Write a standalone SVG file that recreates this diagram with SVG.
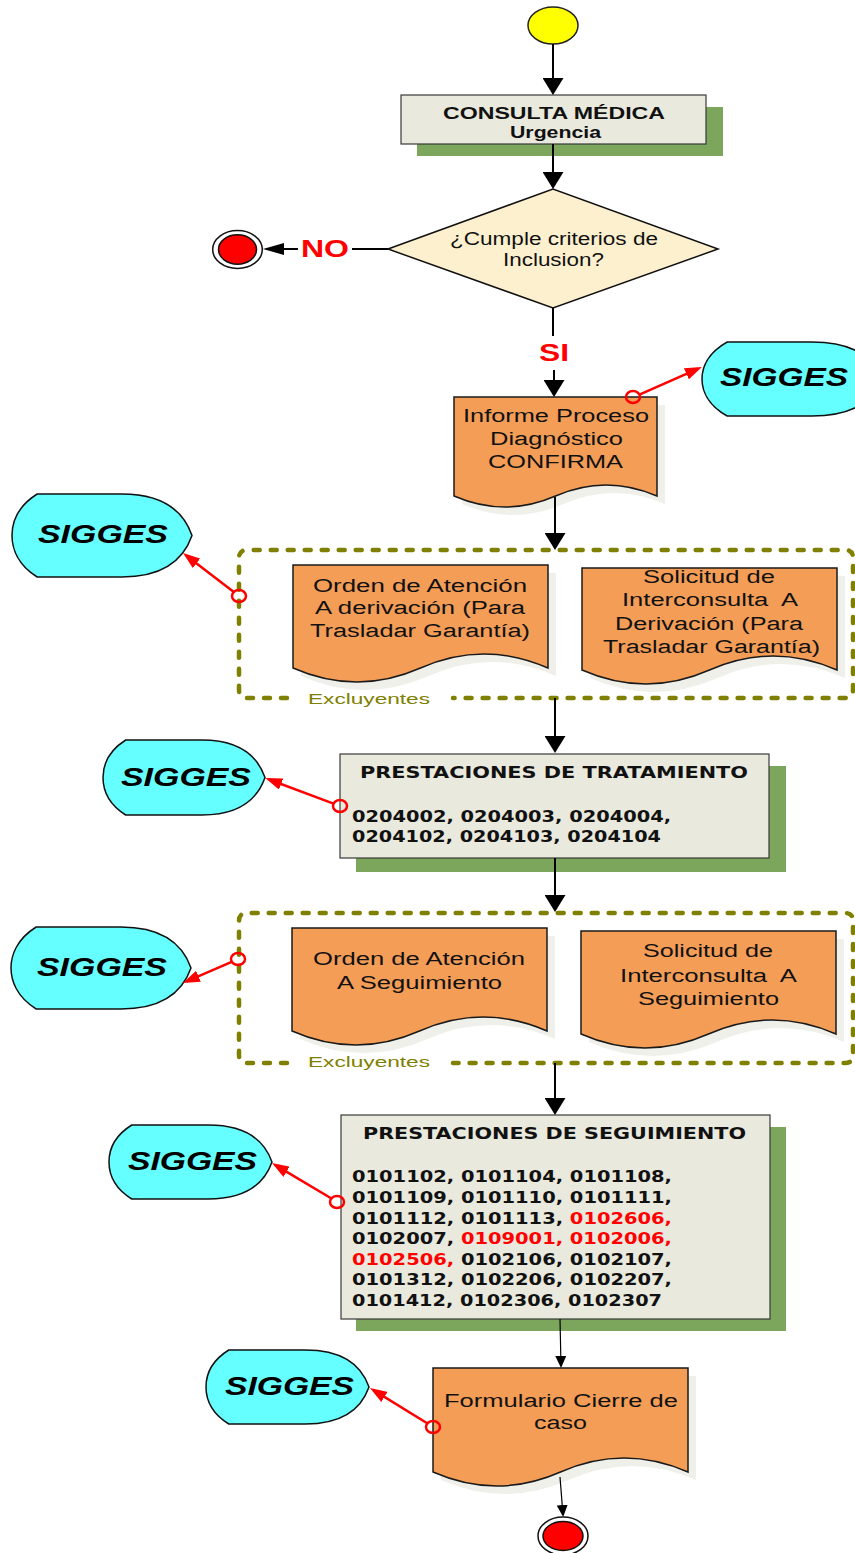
<svg xmlns="http://www.w3.org/2000/svg" width="855" height="1553" viewBox="0 0 855 1553">
<style>
.bg{fill:#ffffff}
.box{fill:#e9e9dd;stroke:#3a3a3a;stroke-width:1.2}
.gshadow{fill:#7ba65b}
.doc{fill:#f49d57;stroke:#1a1a1a;stroke-width:1.5}
.dshadow{fill:#eff0ea}
.sig{fill:#66ffff;stroke:#111;stroke-width:1.5}
.dia{fill:#fdf0cf;stroke:#111;stroke-width:1.5}
.grp{fill:none;stroke:#808000;stroke-width:4.5;stroke-dasharray:6 11;stroke-linecap:round;stroke-linejoin:round}
.t{font-family:"Liberation Sans",Arial,sans-serif;font-size:18px;fill:#111;text-anchor:middle}
.tb{font-family:"Liberation Sans",Arial,sans-serif;font-size:17px;font-weight:bold;fill:#111;text-anchor:middle}
.lbl{font-family:"Liberation Sans",Arial,sans-serif;font-size:23px;font-weight:bold;fill:#ff0000;text-anchor:middle}
.sigt{font-family:"Liberation Sans",Arial,sans-serif;font-size:25px;font-weight:bold;font-style:italic;fill:#000;text-anchor:middle}
.ptitle{font-family:"DejaVu Sans",Verdana,sans-serif;font-size:16px;font-weight:bold;fill:#111;text-anchor:middle}
.code{font-family:"DejaVu Sans",Verdana,sans-serif;font-size:16.5px;font-weight:bold;fill:#111}
.red{fill:#ff0000}
.exc{font-family:"Liberation Sans",Arial,sans-serif;font-size:15.5px;fill:#808000;text-anchor:middle}
.flow{fill:none;stroke:#000;stroke-width:2}
.thin{fill:none;stroke:#000;stroke-width:1.2}
.rarr{fill:none;stroke:#ff0000;stroke-width:2.5}
.rcirc{fill:none;stroke:#ff0000;stroke-width:2.5}
</style>
<defs>
<marker id="arrV" markerUnits="userSpaceOnUse" markerWidth="17" markerHeight="21" refX="13" refY="10.5" orient="auto"><path d="M0,0 L17,10.5 L0,21 Z" fill="#000"/></marker>
<marker id="arrH" markerUnits="userSpaceOnUse" markerWidth="21" markerHeight="12" refX="17" refY="6" orient="auto"><path d="M0,0 L21,6 L0,12 Z" fill="#000"/></marker>
<marker id="arrT" markerUnits="userSpaceOnUse" markerWidth="12" markerHeight="11" refX="10" refY="5.5" orient="auto"><path d="M0,0 L12,5.5 L0,11 Z" fill="#000"/></marker>
<marker id="arrR" markerUnits="userSpaceOnUse" markerWidth="17" markerHeight="12" refX="13" refY="6" orient="auto"><path d="M0,0 L17,6 L0,12 Z" fill="#ff0000"/></marker>
</defs>
<rect class="bg" x="0" y="0" width="855" height="1553"/>

<g id="grupo1">
<path class="grp" d="M287,698 H247 Q239,698 239,690 V558 Q239,550 247,550 H845 Q853,550 853,558 V690 Q853,698 845,698 H453"/>
<text class="exc" x="369" y="704" textLength="122" lengthAdjust="spacingAndGlyphs">Excluyentes</text>
</g>
<g id="grupo2">
<path class="grp" d="M287,1063 H247 Q239,1063 239,1055 V921 Q239,913 247,913 H845 Q853,913 853,921 V1055 Q853,1063 845,1063 H453"/>
<text class="exc" x="369" y="1067" textLength="122" lengthAdjust="spacingAndGlyphs">Excluyentes</text>
</g>

<g id="inicio">
<ellipse cx="553" cy="25.5" rx="25" ry="18.5" fill="#ffff00" stroke="#222" stroke-width="1.5"/>
</g>

<g id="consulta">
<rect class="gshadow" x="417" y="107" width="306" height="49"/>
<rect class="box" x="401" y="95" width="305" height="49"/>
<text class="tb" x="554" y="119" textLength="222" lengthAdjust="spacingAndGlyphs">CONSULTA MÉDICA</text>
<text class="tb" x="555.5" y="138" textLength="91" lengthAdjust="spacingAndGlyphs">Urgencia</text>
</g>

<g id="decision">
<polygon class="dia" points="388,249 553,189 718,249 553,308"/>
<text class="t" x="554" y="245" textLength="208" lengthAdjust="spacingAndGlyphs">¿Cumple criterios de</text>
<text class="t" x="553.5" y="266" textLength="101" lengthAdjust="spacingAndGlyphs">Inclusion?</text>
</g>

<g id="fin-no">
<ellipse cx="237.5" cy="249.5" rx="24.8" ry="19" fill="#fff" stroke="#111" stroke-width="1.5"/>
<ellipse cx="237.5" cy="249.5" rx="19" ry="14.7" fill="#ff0000" stroke="#111" stroke-width="1.5"/>
</g>

<g id="informe">
<path class="dshadow" transform="translate(8 8)" d="M454,397 H657 V496 Q606,474 555.5,496 T454,496 Z"/>
<path class="doc" d="M454,397 H657 V496 Q606,474 555.5,496 T454,496 Z"/>
<text class="t" x="556" y="422" textLength="186" lengthAdjust="spacingAndGlyphs">Informe Proceso</text>
<text class="t" x="556.5" y="445" textLength="133" lengthAdjust="spacingAndGlyphs">Diagnóstico</text>
<text class="t" x="555.5" y="468" textLength="135" lengthAdjust="spacingAndGlyphs">CONFIRMA</text>
</g>

<g id="sigges0">
<path class="sig" d="M727.2,342 H811.8 Q867.6,342 882,379 Q867.6,416 811.8,416 H727.2 C707.4,404.9 702,390.1 702,379 C702,367.9 707.4,353.1 727.2,342 Z"/>
<text class="sigt" x="784" y="386" textLength="128" lengthAdjust="spacingAndGlyphs">SIGGES</text>
</g>

<g id="sigges1">
<path class="sig" d="M37.2,494 H121.8 Q177.6,494 192,535.5 Q177.6,577 121.8,577 H37.2 C17.4,564.6 12,548 12,535.5 C12,523 17.4,506.5 37.2,494 Z"/>
<text class="sigt" x="103" y="543" textLength="130" lengthAdjust="spacingAndGlyphs">SIGGES</text>
</g>

<g id="ordenDerivacion">
<path class="dshadow" transform="translate(8 8)" d="M293,565 H548 V668 Q484,640 420.5,668 T293,668 Z"/>
<path class="doc" d="M293,565 H548 V668 Q484,640 420.5,668 T293,668 Z"/>
<text class="t" x="420" y="592" textLength="214" lengthAdjust="spacingAndGlyphs">Orden de Atención</text>
<text class="t" x="420" y="614" textLength="210" lengthAdjust="spacingAndGlyphs">A derivación (Para</text>
<text class="t" x="420" y="637" textLength="220" lengthAdjust="spacingAndGlyphs">Trasladar Garantía)</text>
</g>

<g id="solicitudDerivacion">
<path class="dshadow" transform="translate(8 8)" d="M582,568 H837 V670 Q773,642 709.5,670 T582,670 Z"/>
<path class="doc" d="M582,568 H837 V670 Q773,642 709.5,670 T582,670 Z"/>
<text class="t" x="709" y="583" textLength="132" lengthAdjust="spacingAndGlyphs">Solicitud de</text>
<text class="t" x="710" y="606" xml:space="preserve" textLength="176" lengthAdjust="spacingAndGlyphs">Interconsulta  A</text>
<text class="t" x="709" y="630" textLength="188" lengthAdjust="spacingAndGlyphs">Derivación (Para</text>
<text class="t" x="711.5" y="653" textLength="217" lengthAdjust="spacingAndGlyphs">Trasladar Garantía)</text>
</g>

<g id="sigges2">
<path class="sig" d="M125.7,740 H201.8 Q252,740 265,777.5 Q252,815 201.8,815 H125.7 C107.9,803.8 103,788.8 103,777.5 C103,766.3 107.9,751.3 125.7,740 Z"/>
<text class="sigt" x="186" y="786" textLength="130" lengthAdjust="spacingAndGlyphs">SIGGES</text>
</g>

<g id="tratamiento">
<rect class="gshadow" x="356" y="766" width="430" height="106"/>
<rect class="box" x="340" y="754" width="429" height="104"/>
<text class="ptitle" x="554" y="778" textLength="388" lengthAdjust="spacingAndGlyphs">PRESTACIONES DE TRATAMIENTO</text>
<text class="code" x="352" y="822" textLength="319" lengthAdjust="spacingAndGlyphs">0204002, 0204003, 0204004,</text>
<text class="code" x="352" y="842" textLength="309" lengthAdjust="spacingAndGlyphs">0204102, 0204103, 0204104</text>
</g>

<g id="sigges3">
<path class="sig" d="M36.2,927 H120.8 Q176.6,927 191,968 Q176.6,1009 120.8,1009 H36.2 C16.4,996.7 11,980.3 11,968 C11,955.7 16.4,939.3 36.2,927 Z"/>
<text class="sigt" x="102" y="976" textLength="130" lengthAdjust="spacingAndGlyphs">SIGGES</text>
</g>

<g id="ordenSeguimiento">
<path class="dshadow" transform="translate(8 8)" d="M292,928 H547 V1031 Q483,1003 419.5,1031 T292,1031 Z"/>
<path class="doc" d="M292,928 H547 V1031 Q483,1003 419.5,1031 T292,1031 Z"/>
<text class="t" x="419" y="965" textLength="212" lengthAdjust="spacingAndGlyphs">Orden de Atención</text>
<text class="t" x="419.5" y="989" textLength="165" lengthAdjust="spacingAndGlyphs">A Seguimiento</text>
</g>

<g id="solicitudSeguimiento">
<path class="dshadow" transform="translate(8 8)" d="M581,931 H836 V1034 Q772,1006 708.5,1034 T581,1034 Z"/>
<path class="doc" d="M581,931 H836 V1034 Q772,1006 708.5,1034 T581,1034 Z"/>
<text class="t" x="708" y="957" textLength="130" lengthAdjust="spacingAndGlyphs">Solicitud de</text>
<text class="t" x="708.5" y="982" xml:space="preserve" textLength="177" lengthAdjust="spacingAndGlyphs">Interconsulta  A</text>
<text class="t" x="708.5" y="1005" textLength="141" lengthAdjust="spacingAndGlyphs">Seguimiento</text>
</g>

<g id="sigges4">
<path class="sig" d="M131.8,1125 H208.4 Q259,1125 272,1162 Q259,1199 208.4,1199 H131.8 C113.9,1187.9 109,1173.1 109,1162 C109,1150.9 113.9,1136.1 131.8,1125 Z"/>
<text class="sigt" x="192.5" y="1170" textLength="129" lengthAdjust="spacingAndGlyphs">SIGGES</text>
</g>

<g id="seguimiento">
<rect class="gshadow" x="356" y="1127" width="430" height="204"/>
<rect class="box" x="341" y="1115" width="429" height="204"/>
<text class="ptitle" x="554.5" y="1139" textLength="383" lengthAdjust="spacingAndGlyphs">PRESTACIONES DE SEGUIMIENTO</text>
<text class="code" x="352" y="1182" textLength="320" lengthAdjust="spacingAndGlyphs">0101102, 0101104, 0101108,</text>
<text class="code" x="352" y="1203" textLength="320" lengthAdjust="spacingAndGlyphs">0101109, 0101110, 0101111,</text>
<text class="code" x="352" y="1224" textLength="320" lengthAdjust="spacingAndGlyphs">0101112, 0101113, <tspan class="red">0102606,</tspan></text>
<text class="code" x="352" y="1244" textLength="320" lengthAdjust="spacingAndGlyphs">0102007, <tspan class="red">0109001, 0102006,</tspan></text>
<text class="code" x="352" y="1265" textLength="320" lengthAdjust="spacingAndGlyphs"><tspan class="red">0102506,</tspan> 0102106, 0102107,</text>
<text class="code" x="352" y="1285" textLength="320" lengthAdjust="spacingAndGlyphs">0101312, 0102206, 0102207,</text>
<text class="code" x="352" y="1306" textLength="310" lengthAdjust="spacingAndGlyphs">0101412, 0102306, 0102307</text>
</g>

<g id="sigges5">
<path class="sig" d="M228.8,1350 H305.4 Q356,1350 369,1387 Q356,1424 305.4,1424 H228.8 C210.9,1412.9 206,1398.1 206,1387 C206,1375.9 210.9,1361.1 228.8,1350 Z"/>
<text class="sigt" x="289.5" y="1395" textLength="129" lengthAdjust="spacingAndGlyphs">SIGGES</text>
</g>

<g id="cierre">
<path class="dshadow" transform="translate(8 8)" d="M433,1368 H688 V1472 Q624,1444 560.5,1472 T433,1472 Z"/>
<path class="doc" d="M433,1368 H688 V1472 Q624,1444 560.5,1472 T433,1472 Z"/>
<text class="t" x="561" y="1407" textLength="234" lengthAdjust="spacingAndGlyphs">Formulario Cierre de</text>
<text class="t" x="560.5" y="1429" textLength="53" lengthAdjust="spacingAndGlyphs">caso</text>
</g>

<g id="fin">
<ellipse cx="563" cy="1536" rx="25" ry="19" fill="#fff" stroke="#111" stroke-width="1.5"/>
<ellipse cx="563" cy="1536" rx="20" ry="14.5" fill="#ff0000" stroke="#111" stroke-width="1.5"/>
</g>

<g id="connectors">
<line class="flow" x1="553" y1="44" x2="553" y2="91" marker-end="url(#arrV)"/>
<line class="flow" x1="553" y1="144" x2="553" y2="185" marker-end="url(#arrV)"/>
<line class="flow" x1="388" y1="249" x2="352" y2="249"/>
<line class="flow" x1="298" y1="249" x2="267" y2="249" marker-end="url(#arrH)"/>
<line class="flow" x1="553" y1="308" x2="553" y2="336"/>
<line class="flow" x1="554" y1="370" x2="554" y2="393" marker-end="url(#arrV)"/>
<line class="flow" x1="555" y1="497" x2="555" y2="546" marker-end="url(#arrV)"/>
<line class="flow" x1="555" y1="698" x2="555" y2="749" marker-end="url(#arrV)"/>
<line class="flow" x1="555" y1="858" x2="555" y2="908" marker-end="url(#arrV)"/>
<line class="flow" x1="555" y1="1063" x2="555" y2="1111" marker-end="url(#arrV)"/>
<line class="thin" x1="560" y1="1319" x2="561" y2="1366" marker-end="url(#arrT)"/>
<line class="thin" x1="560" y1="1477" x2="563" y2="1515" marker-end="url(#arrT)"/>
<text class="lbl" x="325" y="257" textLength="48" lengthAdjust="spacingAndGlyphs">NO</text>
<text class="lbl" x="554" y="361" textLength="30" lengthAdjust="spacingAndGlyphs">SI</text>
<ellipse class="rcirc" cx="633" cy="397" rx="7" ry="6"/>
<line class="rarr" x1="639.4" y1="394.6" x2="698.3" y2="368.6" marker-end="url(#arrR)"/>
<ellipse class="rcirc" cx="239" cy="596" rx="7" ry="6"/>
<line class="rarr" x1="233.5" y1="591.8" x2="186.2" y2="555.5" marker-end="url(#arrR)"/>
<ellipse class="rcirc" cx="340" cy="806" rx="7" ry="6"/>
<line class="rarr" x1="333.5" y1="803.6" x2="269" y2="779.5" marker-end="url(#arrR)"/>
<ellipse class="rcirc" cx="238" cy="959" rx="7" ry="6"/>
<line class="rarr" x1="231.7" y1="961.9" x2="186.6" y2="981.4" marker-end="url(#arrR)"/>
<ellipse class="rcirc" cx="337" cy="1202" rx="7" ry="6"/>
<line class="rarr" x1="331.1" y1="1198.3" x2="275.4" y2="1165.1" marker-end="url(#arrR)"/>
<ellipse class="rcirc" cx="433" cy="1427" rx="7" ry="6"/>
<line class="rarr" x1="427.2" y1="1423.3" x2="373.4" y2="1390.1" marker-end="url(#arrR)"/>
</g>
</svg>
